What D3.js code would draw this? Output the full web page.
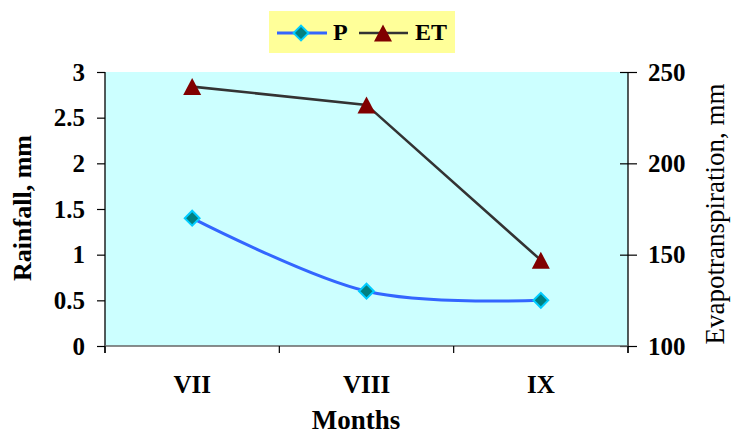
<!DOCTYPE html>
<html>
<head>
<meta charset="utf-8">
<script src="https://cdn.jsdelivr.net/npm/d3@7"></script>
<style>
  body { margin: 0; background: #fff; }
  svg text { font-family: "Liberation Serif", "Times New Roman", serif; fill: #000; }
</style>
</head>
<body>
<script>
// data
var months = ["VII", "VIII", "IX"];
var rainfall = [1.4, 0.6, 0.5];          // P, mm (left axis)
var evapo = [242, 232, 147];             // ET, mm (right axis)
var leftTicks = [0, 0.5, 1, 1.5, 2, 2.5, 3];
var rightTicks = [100, 150, 200, 250];

var W = 731, H = 434;
var plot = {left: 105, right: 628, top: 72, bottom: 346};

var svg = d3.select("body").append("svg")
    .attr("width", W)
    .attr("height", H);

var x = d3.scaleBand()
    .domain(months)
    .range([plot.left, plot.right])
    .paddingInner(0).paddingOuter(0);

var yL = d3.scaleLinear().domain([0, 3]).range([plot.bottom, plot.top]);
var yR = d3.scaleLinear().domain([100, 250]).range([plot.bottom, plot.top]);

function cx(d, i) { return x(months[i]) + x.bandwidth() / 2; }

// plot background
svg.append("rect")
    .attr("x", plot.left).attr("y", plot.top)
    .attr("width", plot.right - plot.left)
    .attr("height", plot.bottom - plot.top)
    .attr("fill", "#CCFFFF");

// left axis
var leftAxis = svg.append("g")
    .attr("transform", "translate(" + plot.left + ",0)")
    .call(d3.axisLeft(yL).tickValues(leftTicks).tickSize(8).tickPadding(12)
        .tickFormat(function(d) { return String(d); }));

// right axis (ticks cross the line)
var rightAxis = svg.append("g")
    .attr("transform", "translate(" + plot.right + ",0)")
    .call(d3.axisRight(yR).tickValues(rightTicks).tickSize(9).tickPadding(11));
rightAxis.selectAll(".tick line").attr("x1", -8);

[leftAxis, rightAxis].forEach(function(g) {
    g.select(".domain").attr("d", "M0," + plot.top + "V" + (plot.bottom + 7))
        .attr("stroke", "#000").attr("stroke-width", 1.3);
    g.selectAll(".tick line").attr("stroke", "#000").attr("stroke-width", 1.2);
    g.selectAll(".tick text")
        .attr("font-family", "Liberation Serif, serif")
        .attr("font-size", 25).attr("font-weight", "bold")
        .attr("fill", "#000");
});

// bottom axis: line + boundary ticks + month labels
svg.append("line")
    .attr("x1", plot.left).attr("x2", plot.right)
    .attr("y1", plot.bottom).attr("y2", plot.bottom)
    .attr("stroke", "#666").attr("stroke-width", 1.5);

svg.selectAll("line.xtick")
    .data(d3.range(months.length + 1))
    .enter().append("line")
    .attr("class", "xtick")
    .attr("x1", function(i) { return plot.left + i * x.step(); })
    .attr("x2", function(i) { return plot.left + i * x.step(); })
    .attr("y1", plot.bottom).attr("y2", plot.bottom + 7)
    .attr("stroke", "#000").attr("stroke-width", 1.2);

svg.selectAll("text.month")
    .data(months)
    .enter().append("text")
    .attr("class", "month")
    .attr("x", cx)
    .attr("y", 393)
    .attr("text-anchor", "middle")
    .attr("font-size", 25).attr("font-weight", "bold")
    .text(function(d) { return d; });

// axis titles
svg.append("text")
    .attr("x", 356).attr("y", 429)
    .attr("text-anchor", "middle")
    .attr("font-size", 27).attr("font-weight", "bold")
    .text("Months");

svg.append("text")
    .attr("transform", "translate(31,208) rotate(-90)")
    .attr("text-anchor", "middle")
    .attr("font-size", 26).attr("font-weight", "bold")
    .text("Rainfall, mm");

svg.append("text")
    .attr("transform", "translate(724,214) rotate(-90)")
    .attr("text-anchor", "middle")
    .attr("font-size", 27)
    .text("Evapotranspiration, mm");

// markers
var triPath = "M0,-8.5L9,8.5L-9,8.5Z";
var diaSym = d3.symbol().type(d3.symbolSquare).size(110);

// ET line
svg.append("path")
    .datum(evapo)
    .attr("fill", "none")
    .attr("stroke", "#333333")
    .attr("stroke-width", 2.6)
    .attr("d", d3.line().x(cx).y(function(d) { return yR(d); }));

// P line (smoothed)
svg.append("path")
    .datum(rainfall)
    .attr("fill", "none")
    .attr("stroke", "#3366FF")
    .attr("stroke-width", 3)
    .attr("d", d3.line().x(cx).y(function(d) { return yL(d); })
        .curve(d3.curveCatmullRom.alpha(0)));

svg.selectAll("path.et")
    .data(evapo)
    .enter().append("path")
    .attr("class", "et")
    .attr("d", triPath)
    .attr("transform", function(d, i) { return "translate(" + cx(d, i) + "," + yR(d) + ")"; })
    .attr("fill", "#800000");

svg.selectAll("path.p")
    .data(rainfall)
    .enter().append("path")
    .attr("class", "p")
    .attr("d", diaSym)
    .attr("transform", function(d, i) { return "translate(" + cx(d, i) + "," + yL(d) + ") rotate(45)"; })
    .attr("fill", "#008080")
    .attr("stroke", "#00CCFF")
    .attr("stroke-width", 2);

// legend
var legend = svg.append("g");
legend.append("rect")
    .attr("x", 269).attr("y", 11)
    .attr("width", 186).attr("height", 42)
    .attr("fill", "#FFFF99");

legend.append("line")
    .attr("x1", 277).attr("x2", 327).attr("y1", 33).attr("y2", 33)
    .attr("stroke", "#3366FF").attr("stroke-width", 3);
legend.append("path")
    .attr("d", diaSym)
    .attr("transform", "translate(301,33) rotate(45)")
    .attr("fill", "#008080").attr("stroke", "#00CCFF").attr("stroke-width", 2);
legend.append("text")
    .attr("x", 333).attr("y", 40)
    .attr("font-size", 24).attr("font-weight", "bold")
    .text("P");

legend.append("line")
    .attr("x1", 359).attr("x2", 408).attr("y1", 33).attr("y2", 33)
    .attr("stroke", "#333333").attr("stroke-width", 2.6);
legend.append("path")
    .attr("d", triPath)
    .attr("transform", "translate(383,33)")
    .attr("fill", "#800000");
legend.append("text")
    .attr("x", 415).attr("y", 40)
    .attr("font-size", 24).attr("font-weight", "bold")
    .text("ET");
</script>
</body>
</html>
